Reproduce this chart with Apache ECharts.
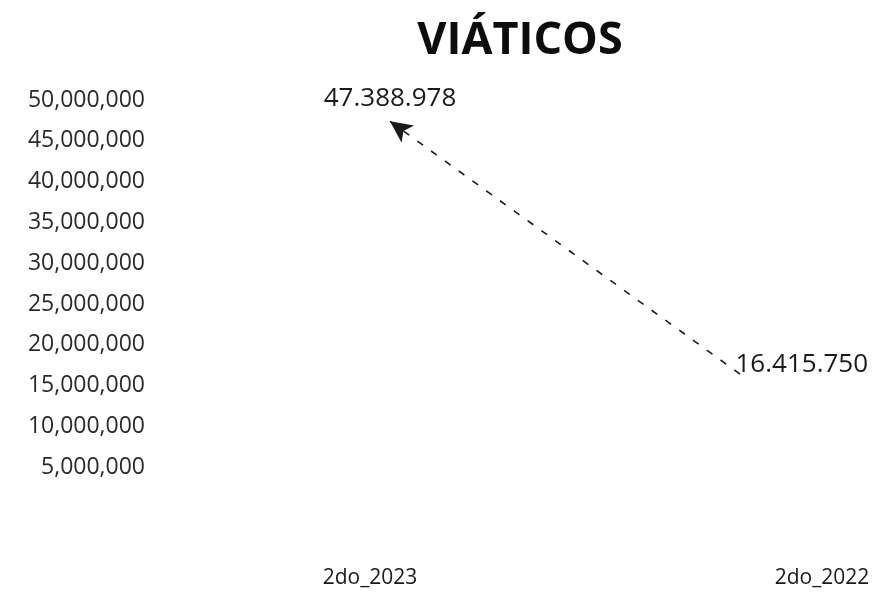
<!DOCTYPE html>
<html>
<head>
<meta charset="utf-8">
<script src="https://cdn.jsdelivr.net/npm/echarts@6/dist/echarts.min.js"></script>
<style>
html,body{margin:0;padding:0;background:#fff;}
#chart{width:880px;height:592px;}
</style>
</head>
<body>
<div id="chart"></div>
<script>
const titleText = 'VIÁTICOS';
const categories = ['2do_2023', '2do_2022'];
const values = [47388978, 16415750];
const yMin = 0;
const yMax = 50000000;
const yStep = 5000000;

function groupDigits(v, sep) {
  return String(Math.round(v)).replace(/\B(?=(\d{3})+(?!\d))/g, sep);
}

const chart = echarts.init(document.getElementById('chart'), null, {renderer: 'canvas'});
const option = {
  backgroundColor: '#ffffff',
  animation: false,
  title: {
    text: titleText,
    left: 515,
    top: 14,
    textAlign: 'center',
    textStyle: {fontFamily: 'Open Sans', fontWeight: 'bold', fontSize: 45, color: '#0d0d0d'}
  },
  grid: {left: 390, right: 140, top: 100, bottom: 84},
  xAxis: {
    type: 'category',
    data: categories,
    boundaryGap: false,
    axisLine: {show: false},
    axisTick: {show: false},
    splitLine: {show: false},
    axisLabel: {
      margin: 60,
      formatter: function (v) { return v === categories[0] ? '{l|' + v + '}' : '{r|' + v + '}'; },
      rich: {
        l: {fontFamily: 'Open Sans', fontSize: 21, color: '#1a1a1a', padding: [0, 40, 0, 0]},
        r: {fontFamily: 'Open Sans', fontSize: 21, color: '#1a1a1a', padding: [0, 0, 0, 164]}
      }
    }
  },
  yAxis: {
    type: 'value',
    min: yMin,
    max: yMax,
    interval: yStep,
    axisLine: {show: false},
    axisTick: {show: false},
    splitLine: {show: false},
    axisLabel: {
      margin: 245,
      fontFamily: 'Open Sans',
      fontSize: 23,
      color: '#2a2a2a',
      formatter: function (v) { return v === 0 ? '' : groupDigits(v, ','); }
    }
  },
  series: [{
    type: 'line',
    data: values.map(function (v, i) {
      return {
        value: v,
        label: i === 0
          ? {position: 'top', distance: 9}
          : {position: 'right', distance: -5, offset: [0, -9]}
      };
    }),
    symbol: 'circle',
    symbolSize: 1,
    itemStyle: {color: 'transparent'},
    lineStyle: {width: 0, opacity: 0},
    label: {
      show: true,
      fontFamily: 'Open Sans',
      fontSize: 26,
      color: '#1a1a1a',
      formatter: function (p) { return groupDigits(p.value, '.'); }
    },
    markLine: {
      silent: true,
      animation: false,
      symbol: ['none', 'arrow'],
      symbolSize: [16, 22],
      label: {show: false},
      lineStyle: {type: [7, 10], color: '#1a1a1a', width: 1.6},
      data: [[
        {coord: [1, values[1]]},
        {coord: [0, values[0]]}
      ]]
    }
  }]
};
chart.setOption(option);
</script>
</body>
</html>
